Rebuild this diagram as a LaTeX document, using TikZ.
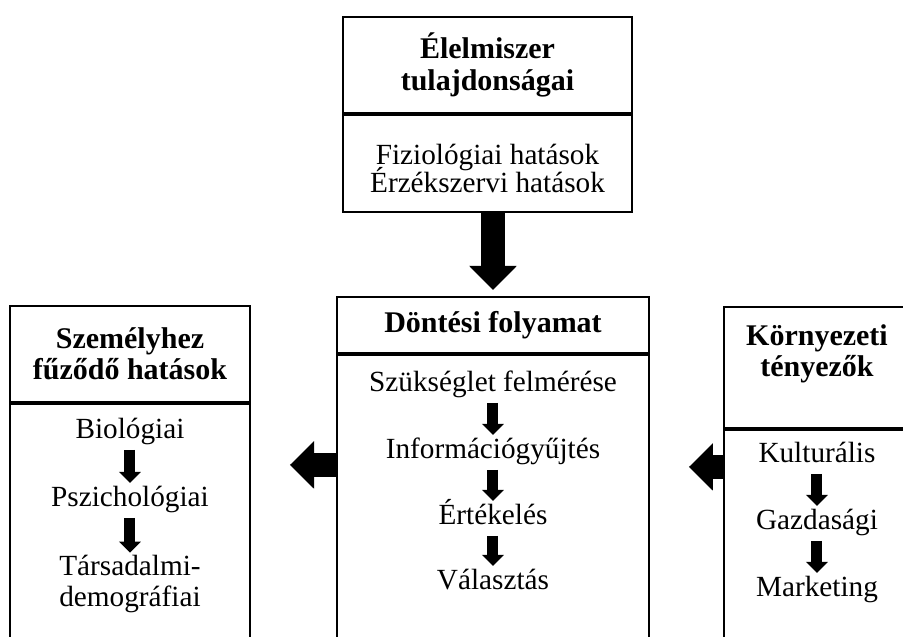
\documentclass[tikz,border=0pt]{standalone}
\usepackage{fontspec}
\setmainfont{Liberation Serif}
\usetikzlibrary{arrows.meta}
\usetikzlibrary{positioning}

\tikzset{
    boxline/.style={draw, line width=0.8pt, inner sep=0pt, align=center},
    headbox/.style={boxline, font=\fontsize{12}{12.5}\selectfont\bfseries},
    bodybox/.style={boxline, font=\fontsize{11.7}{12.5}\selectfont},
    itemtext/.style={inner sep=0pt, align=center, font=\fontsize{11.7}{12.5}\selectfont},
    item/.style={inner sep=0pt, text height=8.6pt, text depth=2.6pt, anchor=base, font=\fontsize{11.7}{12.5}\selectfont},
    bigarrow/.style={line width=9.4pt, -{Triangle[width=19pt, length=9.6pt, line width=0pt]}},
    smallarrow/.style={line width=4.4pt, shorten <=1.6pt, shorten >=0.8pt, -{Triangle[width=8.8pt, length=4.4pt, line width=0pt]}}
}

\begin{document}
\begin{tikzpicture}[x=0.4pt, y=-0.4pt]
    \useasboundingbox (0, 0) rectangle (903, 637);

    \node [headbox, minimum width=115.6pt, minimum height=38.4pt] (foodhead) at (487.5, 65) {Élelmiszer\\tulajdonságai};
    \node [bodybox, minimum width=115.6pt, minimum height=38.8pt, font={\fontsize{11.7}{11.2}\selectfont\lineskiplimit=-10pt}, below=0pt of foodhead] (foodbody) {\mbox{}\\[1pt]Fiziológiai hatások\\Érzékszervi hatások};

    \node [headbox, minimum width=124.8pt, minimum height=22.4pt] (dechead) at (493, 325) {Döntési folyamat};
    \node [boxline, minimum width=124.8pt, minimum height=140pt, below=0pt of dechead] (decbody) {};

    \node [headbox, minimum width=96pt, minimum height=38.4pt] (personhead) at (130, 354) {Személyhez\\fűződő hatások};
    \node [boxline, minimum width=96pt, minimum height=130pt, below=0pt of personhead] (personbody) {};

    \node [headbox, minimum width=74.4pt, minimum height=48.4pt] (envhead) at (817, 367.5) {Környezeti\\tényezők\\[1pt]\mbox{}};
    \node [boxline, minimum width=74.4pt, minimum height=110pt, below=0pt of envhead] (envbody) {};

    \node [item] (need) at (493, 392) {Szükséglet felmérése};
    \node [item] (info) at (493, 459) {Információgyűjtés};
    \node [item] (eval) at (493, 525) {Értékelés};
    \node [item] (choice) at (493, 590) {Választás};

    \node [item] (bio) at (130, 439) {Biológiai};
    \node [item] (psych) at (130, 507) {Pszichológiai};
    \node [itemtext] (social) at (130, 584) {Társadalmi-\\demográfiai};

    \node [item] (culture) at (817, 463) {Kulturális};
    \node [item] (economy) at (817, 530) {Gazdasági};
    \node [item] (marketing) at (817, 597) {Marketing};

    \draw [smallarrow] (need) -- (info);
    \draw [smallarrow] (info) -- (eval);
    \draw [smallarrow] (eval) -- (choice);
    \draw [smallarrow] (bio) -- (psych);
    \draw [smallarrow] (psych) -- (social);
    \draw [smallarrow] (culture) -- (economy);
    \draw [smallarrow] (economy) -- (marketing);

    \coordinate (downtip) at (493, 290);
    \coordinate (lefttip) at (290, 465);
    \coordinate (righttip) at (689, 467);
    \draw [bigarrow] (foodbody.south -| downtip) -- (downtip);
    \draw [bigarrow] (lefttip -| decbody.west) -- (lefttip);
    \draw [bigarrow] (righttip -| envbody.west) -- (righttip);
\end{tikzpicture}
\end{document}
